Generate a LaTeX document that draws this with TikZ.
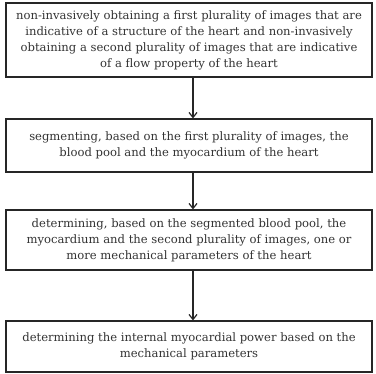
\documentclass[tikz,border=0pt]{standalone}
\usepackage{fontspec}
\setmainfont{DejaVu Serif}
\usetikzlibrary{arrows.meta}
\begin{document}
\begin{tikzpicture}[x=1pt,y=-1pt,
  stepbox/.style={draw=black!85, line width=1.2pt, minimum width=366pt, align=center, inner sep=0pt,
    font=\fontsize{11.6pt}{16pt}\selectfont, text=black!80},
  flow/.style={draw=black!85, line width=1.2pt, -{Straight Barb[length=5pt,width=8pt,line width=1.2pt]}}]
\useasboundingbox (0,0) rectangle (376,374);
\node[stepbox, minimum height=74pt] (b1) at (189,40) {non-invasively obtaining a first plurality of images that are\\indicative of a structure of the heart and non-invasively\\obtaining a second plurality of images that are indicative\\of a flow property of the heart};
\node[stepbox, minimum height=53pt] (b2) at (189,145.5) {segmenting, based on the first plurality of images, the\\blood pool and the myocardium of the heart};
\node[stepbox, minimum height=60pt] (b3) at (189,240) {determining, based on the segmented blood pool, the\\myocardium and the second plurality of images, one or\\more mechanical parameters of the heart};
\node[stepbox, minimum height=51pt] (b4) at (189,346.5) {determining the internal myocardial power based on the\\mechanical parameters};
\draw[flow] ([xshift=4pt]b1.south) -- ([xshift=4pt]b2.north);
\draw[flow] ([xshift=4pt]b2.south) -- ([xshift=4pt]b3.north);
\draw[flow] ([xshift=4pt]b3.south) -- ([xshift=4pt]b4.north);
\end{tikzpicture}
\end{document}
